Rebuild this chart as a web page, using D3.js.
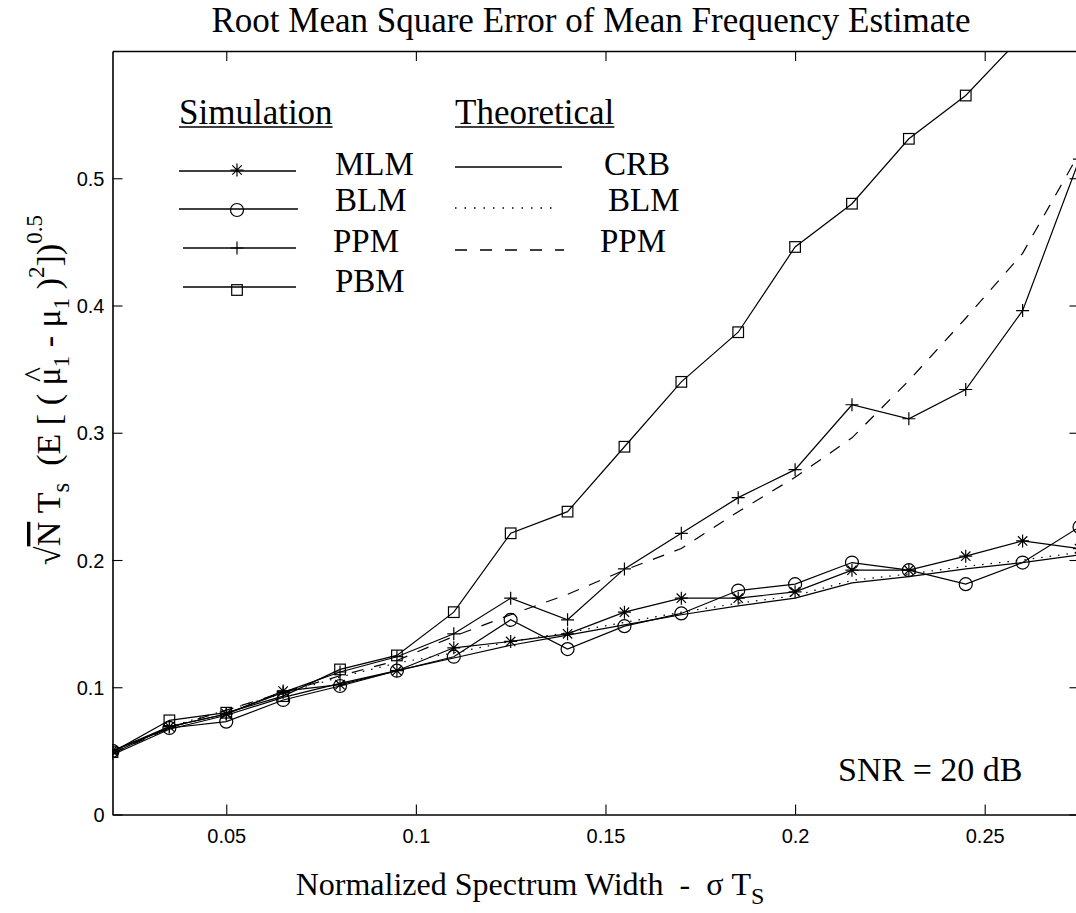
<!DOCTYPE html>
<html>
<head>
<meta charset="utf-8">
<script src="https://cdn.jsdelivr.net/npm/d3@7"></script>
<style>
  html, body { margin: 0; padding: 0; background: #fff; }
  svg { display: block; }
</style>
</head>
<body>
<svg id="chart" width="1076" height="913"></svg>
<script>
// ---------- data ----------
const widths = [0.02, 0.035, 0.05, 0.065, 0.08, 0.095, 0.11, 0.125, 0.14, 0.155, 0.17, 0.185, 0.2, 0.215, 0.23, 0.245, 0.26, 0.275];
const simMLM = [0.050, 0.069, 0.079, 0.097, 0.102, 0.113, 0.131, 0.136, 0.142, 0.159, 0.170, 0.170, 0.175, 0.192, 0.192, 0.203, 0.215, 0.209];
const simBLM = [0.050, 0.068, 0.073, 0.090, 0.101, 0.113, 0.124, 0.153, 0.130, 0.148, 0.158, 0.176, 0.181, 0.198, 0.192, 0.181, 0.198, 0.226];
const simPPM = [0.048, 0.069, 0.079, 0.096, 0.112, 0.124, 0.142, 0.170, 0.153, 0.193, 0.221, 0.249, 0.271, 0.322, 0.311, 0.334, 0.396, 0.515];
const simPBM = [0.049, 0.074, 0.080, 0.093, 0.114, 0.125, 0.159, 0.221, 0.238, 0.289, 0.340, 0.379, 0.446, 0.480, 0.531, 0.565, 0.612, null];
const theoCRB = [0.047, 0.067, 0.078, 0.092, 0.103, 0.113, 0.123, 0.133, 0.141, 0.149, 0.157, 0.164, 0.170, 0.182, 0.187, 0.193, 0.198, 0.204];
const theoBLM = [0.049, 0.069, 0.082, 0.095, 0.108, 0.119, 0.127, 0.136, 0.143, 0.151, 0.159, 0.166, 0.172, 0.184, 0.189, 0.195, 0.200, 0.206];
const theoPPM = [0.048, 0.068, 0.082, 0.096, 0.109, 0.121, 0.140, 0.157, 0.173, 0.192, 0.209, 0.238, 0.265, 0.296, 0.341, 0.390, 0.441, 0.520];
const xTicks = [0.05, 0.1, 0.15, 0.2, 0.25];
const xTickLabels = ["0.05", "0.1", "0.15", "0.2", "0.25"];
const yTicks = [0, 0.1, 0.2, 0.3, 0.4, 0.5];
const yTickLabels = ["0", "0.1", "0.2", "0.3", "0.4", "0.5"];

// ---------- layout ----------
const svg = d3.select("#chart");
const L = 112.5, R = 1079.5, T = 51, B = 814.5;
const x = d3.scaleLinear().domain([0.02, 0.275]).range([L, R]);
const y = d3.scaleLinear().domain([0, 0.6]).range([B, T]);
const serif = "'Liberation Serif', 'Times New Roman', serif";
const sans = "'Liberation Sans', Arial, sans-serif";
const NB = "\u00A0";

svg.append("defs").append("clipPath").attr("id", "clip")
  .append("rect").attr("x", L).attr("y", T).attr("width", R - L).attr("height", B - T);

// axes (ticks inward)
const tickLen = 10;
const axB = svg.append("g").attr("transform", `translate(0,${B})`)
  .call(d3.axisBottom(x).tickValues(xTicks).tickSizeInner(-tickLen).tickSizeOuter(0).tickPadding(14)
    .tickFormat((d, i) => xTickLabels[i]));
const axT = svg.append("g").attr("transform", `translate(0,${T})`)
  .call(d3.axisTop(x).tickValues(xTicks).tickSizeInner(-tickLen).tickSizeOuter(0).tickFormat(""));
const axL = svg.append("g").attr("transform", `translate(${L},0)`)
  .call(d3.axisLeft(y).tickValues(yTicks).tickSizeInner(-tickLen).tickSizeOuter(0).tickPadding(8)
    .tickFormat((d, i) => yTickLabels[i]));
const axR = svg.append("g").attr("transform", `translate(${R},0)`)
  .call(d3.axisRight(y).tickValues(yTicks).tickSizeInner(-tickLen).tickSizeOuter(0).tickFormat(""));
[axB, axT, axL, axR].forEach(a => {
  a.select(".domain").attr("stroke", "#000").attr("stroke-width", 1.6);
  a.selectAll(".tick line").attr("stroke", "#000").attr("stroke-width", 1.1);
  a.selectAll(".tick text").attr("font-family", sans).attr("font-size", 20).attr("fill", "#000");
});
axL.selectAll(".tick text").attr("dy", "0.36em");

// ---------- lines ----------
const plot = svg.append("g").attr("clip-path", "url(#clip)");
const line = d3.line().defined(d => d[1] != null).x(d => x(d[0])).y(d => y(d[1]));
const pts = arr => widths.map((w, i) => [w, arr[i]]);

function drawLine(arr, dash) {
  plot.append("path").datum(pts(arr)).attr("d", line)
    .attr("fill", "none").attr("stroke", "#000").attr("stroke-width", 1.2)
    .attr("stroke-dasharray", dash || null);
}
drawLine(theoCRB);
drawLine(theoBLM, "1.5,7");
drawLine(theoPPM, "12,11");
drawLine(simMLM);
drawLine(simBLM);
drawLine(simPPM);
drawLine(simPBM);

// ---------- markers ----------
function marker(g, type, cx, cy) {
  const s = g.append("g").attr("transform", `translate(${cx},${cy})`)
    .attr("fill", "none").attr("stroke", "#000").attr("stroke-width", 1.2);
  if (type === "star") {
    const r = 6.5, q = r * 0.72;
    s.append("path").attr("d", `M0,${-r}V${r}M${-r},0H${r}M${-q},${-q}L${q},${q}M${-q},${q}L${q},${-q}`);
  } else if (type === "circle") {
    s.append("circle").attr("r", 6.5);
  } else if (type === "plus") {
    const r = 6.5;
    s.append("path").attr("d", `M0,${-r}V${r}M${-r},0H${r}`);
  } else if (type === "square") {
    s.append("rect").attr("x", -5.3).attr("y", -5.3).attr("width", 10.6).attr("height", 10.6);
  }
}
function drawMarkers(arr, type) {
  pts(arr).filter(d => d[1] != null).forEach(d => marker(plot, type, x(d[0]), y(d[1])));
}
drawMarkers(simMLM, "star");
drawMarkers(simBLM, "circle");
drawMarkers(simPPM, "plus");
drawMarkers(simPBM, "square");

// ---------- texts ----------
svg.append("text").attr("x", 591).attr("y", 32).attr("text-anchor", "middle")
  .attr("font-family", serif).attr("font-size", 35).text("Root Mean Square Error of Mean Frequency Estimate");

// x label
const xl = svg.append("text").attr("x", 530).attr("y", 895).attr("text-anchor", "middle")
  .attr("font-family", serif).attr("font-size", 32);
xl.append("tspan").text("Normalized Spectrum Width" + NB + NB + "-" + NB + NB + "\u03C3 T");
xl.append("tspan").attr("font-size", 24).attr("dy", 9).text("S");

// SNR
svg.append("text").attr("x", 838).attr("y", 781).attr("font-family", serif).attr("font-size", 34).text("SNR = 20 dB");

// y label (rotated)
const yg = svg.append("g").attr("transform", "translate(60,390) rotate(-90)");
const yt = yg.append("text").attr("font-family", serif).attr("font-size", 34).attr("x", 0).attr("y", 0);
const sub = 9, sup = -16;
yt.append("tspan").text("\u221A");
yt.append("tspan").style("text-decoration", "overline").text("N");
yt.append("tspan").text(NB + "T");
yt.append("tspan").attr("font-size", 25).attr("dy", sub).text("s");
yt.append("tspan").attr("dy", -sub).text(NB + NB + "(E" + NB + "[" + NB + "(" + NB);
yt.append("tspan").text("\u03BC");
yt.append("tspan").attr("font-size", 23).attr("dy", sub).text("1");
yt.append("tspan").attr("dy", -sub).text(NB + "-" + NB + "\u03BC");
yt.append("tspan").attr("font-size", 23).attr("dy", sub).text("1");
yt.append("tspan").attr("dy", -sub).text(NB + ")");
yt.append("tspan").attr("font-size", 23).attr("dy", sup).text("2");
yt.append("tspan").attr("dy", -sup).text("])");
yt.append("tspan").attr("font-size", 23).attr("dy", sup - 2).text("0.5");
const ylen = yt.node().getComputedTextLength();
yt.attr("x", -ylen / 2);
// hat over first mu
const full = yt.node().textContent;
const muChar = full.indexOf("\u03BC");
const ext = yt.node().getExtentOfChar(muChar);
yg.append("text").attr("font-family", serif).attr("font-size", 32).attr("text-anchor", "middle")
  .attr("x", ext.x + ext.width / 2 + 2).attr("y", -14).text("^");

// ---------- legend ----------
const lg = svg.append("g");
function underlined(txt, xx, yy) {
  const t = lg.append("text").attr("x", xx).attr("y", yy).attr("font-family", serif).attr("font-size", 35).text(txt);
  const w = t.node().getComputedTextLength();
  lg.append("line").attr("x1", xx).attr("x2", xx + w).attr("y1", yy + 3).attr("y2", yy + 3)
    .attr("stroke", "#000").attr("stroke-width", 1.4);
}
underlined("Simulation", 179, 124);
underlined("Theoretical", 455, 124);

const simLegend = [
  { label: "MLM", type: "star", x1: 179, x2: 296, ly: 171, my: 170, tx: 335, ty: 175 },
  { label: "BLM", type: "circle", x1: 179, x2: 298, ly: 209, my: 210, tx: 335, ty: 211 },
  { label: "PPM", type: "plus", x1: 183, x2: 296, ly: 248, my: 248, tx: 333, ty: 252 },
  { label: "PBM", type: "square", x1: 183, x2: 296, ly: 287, my: 290, tx: 335, ty: 292 }
];
simLegend.forEach(d => {
  lg.append("line").attr("x1", d.x1).attr("x2", d.x2).attr("y1", d.ly).attr("y2", d.ly)
    .attr("stroke", "#000").attr("stroke-width", 1.4);
  marker(lg, d.type, 237, d.my);
  lg.append("text").attr("x", d.tx).attr("y", d.ty).attr("font-family", serif).attr("font-size", 33).text(d.label);
});
const theoLegend = [
  { label: "CRB", dash: null, x1: 455, x2: 562, ly: 167, tx: 604, ty: 175 },
  { label: "BLM", dash: "1.5,8", x1: 455, x2: 556, ly: 208, tx: 608, ty: 211 },
  { label: "PPM", dash: "12,13", x1: 455, x2: 564, ly: 250, tx: 600, ty: 252 }
];
theoLegend.forEach(d => {
  lg.append("line").attr("x1", d.x1).attr("x2", d.x2).attr("y1", d.ly).attr("y2", d.ly)
    .attr("stroke", "#000").attr("stroke-width", 1.4).attr("stroke-dasharray", d.dash);
  lg.append("text").attr("x", d.tx).attr("y", d.ty).attr("font-family", serif).attr("font-size", 33).text(d.label);
});
</script>
</body>
</html>
